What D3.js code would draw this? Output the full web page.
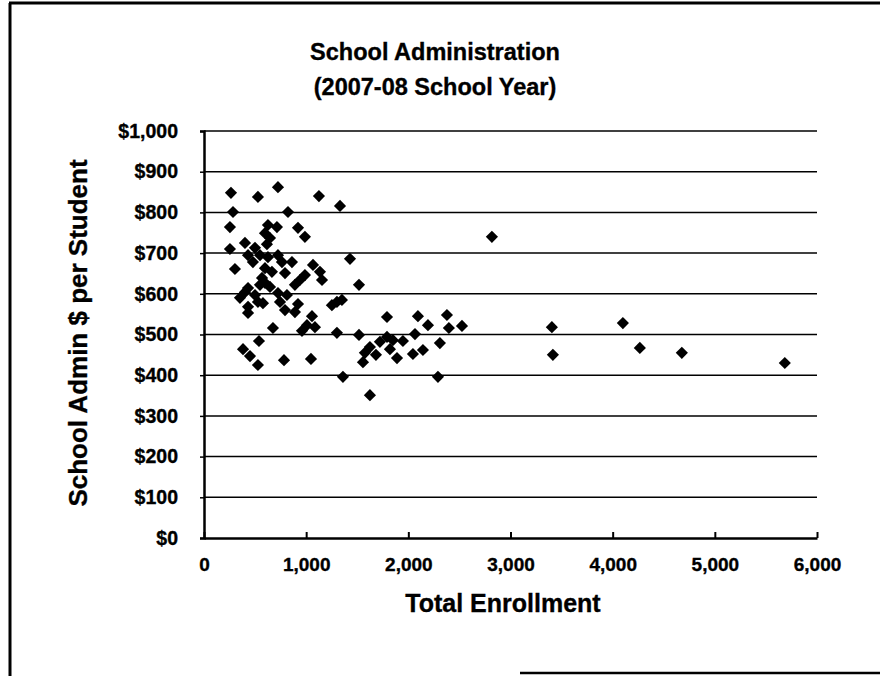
<!DOCTYPE html>
<html>
<head>
<meta charset="utf-8">
<script src="https://cdn.jsdelivr.net/npm/d3@7"></script>
<style>
  html, body { margin: 0; padding: 0; background: #fff; }
  svg { display: block; }
  text { font-family: "Liberation Sans", Arial, sans-serif; font-weight: bold; fill: #000; stroke: #000; stroke-width: 0.35px; }
</style>
</head>
<body>
<svg id="chart" width="880" height="676"></svg>
<script>
// Total enrollment per district and school administration spending per student
const enrollment = [
  264, 528, 724, 284, 822, 254, 626, 714, 597, 646, 920, 988, 401, 254, 616,
  1125, 1331, 1429, 1517,
  499, 431, 548, 626, 724, 479, 763, 861, 597, 665, 793, 568, 303, 548, 431,
  597, 646, 890, 939, 988, 1067, 1135, 1155, 401, 352, 499, 528, 724, 812,
  431, 431, 577, 744, 920, 793, 890,
  1057, 1008, 1086, 959, 1252, 1301, 1350, 675, 538, 1301,
  382, 450, 528, 783, 1047, 1360, 1624,
  1517, 1624, 1575, 1556, 1683, 1722, 1791, 1849, 1889, 1820, 1947, 2045, 2065,
  2143, 2309, 1791, 2094, 2192, 2378, 2397, 2525, 2290, 2818,
  3405, 3415, 4100, 4266, 4677, 5685
];
const adminPerStudent = [
  848, 838, 862, 801, 801, 764, 769, 764, 749, 737, 762, 740, 725, 710, 722,
  840, 816, 686, 622,
  713, 695, 695, 690, 695, 678, 678, 678, 663, 654, 651, 639, 661, 622, 614,
  627, 617, 622, 634, 646, 671, 654, 634, 604, 590, 597, 580, 602, 597,
  568, 553, 577, 580, 575, 560, 555,
  545, 523, 518, 509, 572, 580, 585, 516, 484, 504,
  464, 447, 425, 437, 440, 396, 351,
  499, 469, 455, 432, 450, 482, 494, 486, 442, 464, 484, 452, 501,
  462, 479, 543, 545, 523, 548, 516, 521, 396, 740,
  518, 450, 528, 467, 455, 430
];

const xTicks = [0, 1000, 2000, 3000, 4000, 5000, 6000];
const yTicks = [0, 100, 200, 300, 400, 500, 600, 700, 800, 900, 1000];

const titleLines = ["School Administration", "(2007-08 School Year)"];
const xTitle = "Total Enrollment";
const yTitle = "School Admin $ per Student";

const svg = d3.select("#chart");

// outer chart frame
const frame = svg.append("g").attr("stroke", "#000").attr("fill", "none");
frame.append("line").attr("x1", 10).attr("y1", 3).attr("x2", 10).attr("y2", 676).attr("stroke-width", 3);
frame.append("line").attr("x1", 9).attr("y1", 3).attr("x2", 880).attr("y2", 3).attr("stroke-width", 3);
frame.append("line").attr("x1", 520).attr("y1", 673).attr("x2", 880).attr("y2", 673).attr("stroke-width", 2.5);

const plot = { left: 204, right: 817, top: 131, bottom: 538 };

const x = d3.scaleLinear().domain([0, 6000]).range([plot.left, plot.right]);
const y = d3.scaleLinear().domain([0, 1000]).range([plot.bottom, plot.top]);

// horizontal gridlines
svg.append("g")
  .selectAll("line")
  .data(yTicks.filter(d => d > 0))
  .join("line")
  .attr("x1", plot.left).attr("x2", plot.right)
  .attr("y1", d => y(d)).attr("y2", d => y(d))
  .attr("stroke", "#000").attr("stroke-width", 1.5);

// y axis
const yAxis = svg.append("g")
  .attr("transform", `translate(${plot.left},0)`)
  .call(d3.axisLeft(y).tickValues(yTicks).tickSize(4).tickPadding(22)
    .tickFormat(d => "$" + d3.format(",")(d)));
yAxis.select(".domain").attr("stroke-width", 2.5);
yAxis.selectAll(".tick line").attr("stroke-width", 1.5);
yAxis.selectAll("text").attr("font-size", 19.5).attr("font-family", "Liberation Sans, Arial, sans-serif").attr("font-weight", "bold");

// x axis with inward ticks
const xAxis = svg.append("g")
  .attr("transform", `translate(0,${plot.bottom})`)
  .call(d3.axisBottom(x).tickValues(xTicks).tickSizeInner(-6).tickSizeOuter(0).tickPadding(20)
    .tickFormat(d3.format(",")));
xAxis.select(".domain").attr("stroke-width", 2.5);
xAxis.selectAll(".tick line").attr("stroke-width", 2);
xAxis.selectAll("text").attr("font-size", 19).attr("font-family", "Liberation Sans, Arial, sans-serif").attr("font-weight", "bold");

// points as diamonds
const diamond = d3.symbol().type(d3.symbolSquare).size(74);
svg.append("g")
  .selectAll("path")
  .data(enrollment.map((e, i) => [e, adminPerStudent[i]]))
  .join("path")
  .attr("d", diamond)
  .attr("transform", d => `translate(${x(d[0])},${y(d[1])}) rotate(45)`)
  .attr("fill", "#000");

// titles
svg.append("text")
  .attr("x", 435).attr("y", 60)
  .attr("text-anchor", "middle").attr("font-size", 23.5)
  .text(titleLines[0]);
svg.append("text")
  .attr("x", 435).attr("y", 95)
  .attr("text-anchor", "middle").attr("font-size", 23.5)
  .text(titleLines[1]);

svg.append("text")
  .attr("x", 503).attr("y", 612)
  .attr("text-anchor", "middle").attr("font-size", 25)
  .text(xTitle);

svg.append("text")
  .attr("transform", "translate(87,333) rotate(-90)")
  .attr("text-anchor", "middle").attr("font-size", 26)
  .text(yTitle);
</script>
</body>
</html>
